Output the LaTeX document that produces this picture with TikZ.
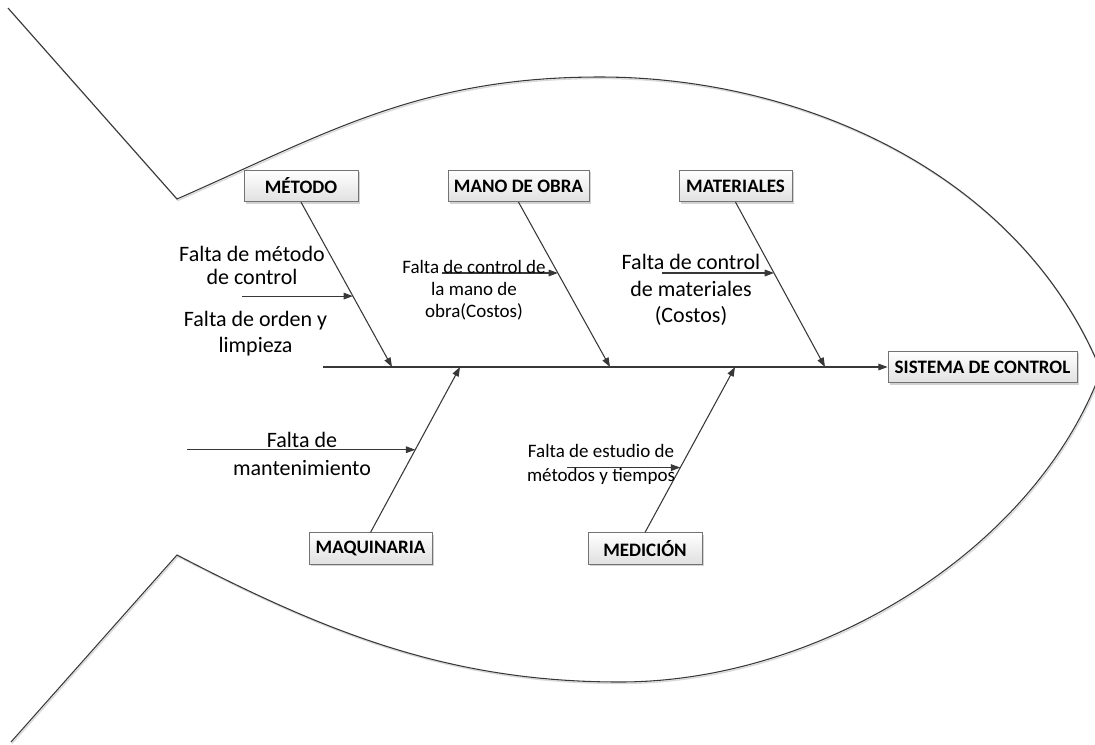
\documentclass[tikz,border=0pt]{standalone}
\usepackage{fontspec}
\setmainfont{Carlito}
\usetikzlibrary{arrows.meta,shadows,calc}
\begin{document}
\begin{tikzpicture}[x=0.75pt,y=-0.75pt,
  line/.style={draw=black!78, line width=0.8pt},
  arr/.style={line, -{Triangle[length=7pt,width=5pt]}},
  box/.style={draw=black!55, line width=0.6pt, top color=white, bottom color=black!12,
    drop shadow={shadow xshift=1.5pt, shadow yshift=-1.5pt, fill=black!25, opacity=0.7},
    font=\fontsize{14.25pt}{16pt}\selectfont\bfseries, inner sep=0pt, minimum height=23.5pt},
  lbl/.style={align=center, inner sep=0pt, text=black}
]
\useasboundingbox (0,0) rectangle (1095,744);
\clip (0,0) rectangle (1095,744);
% fish outline (shadow + line)
\draw[black!15, line width=1pt, shift={(1,1.5)}] (8,8) -- (177,199) .. controls (327,133) and (420,77) .. (600,77) .. controls (800,77) and (1020,172) .. (1101,371) .. controls (1035,550) and (820,682) .. (620,682) .. controls (450,682) and (327,633) .. (177,555) -- (11,742);
\draw[line] (8,8) -- (177,199) .. controls (327,133) and (420,77) .. (600,77) .. controls (800,77) and (1020,172) .. (1101,371) .. controls (1035,550) and (820,682) .. (620,682) .. controls (450,682) and (327,633) .. (177,555) -- (11,742);

% boxes
\node[box, minimum width=85.5pt] (metodo) at (301,186) {MÉTODO};
\node[box, minimum width=105.75pt] (mano) at (518.5,186) {MANO DE OBRA};
\node[box, minimum width=84.75pt] (materiales) at (735.5,186) {MATERIALES};
\node[box, minimum width=141.75pt] (sistema) at (982.5,367) {SISTEMA DE CONTROL};
\node[box, minimum width=92.25pt] (maquinaria) at (370.5,548.5) {MAQUINARIA};
\node[box, minimum width=85.5pt] (medicion) at (645,548.5) {MEDICIÓN};

% spine
\coordinate (sp) at (323,367);
\draw[arr] (sp) -- (sistema.west);

% bones
\coordinate (j1) at (392,367);
\coordinate (j2) at (610,367);
\coordinate (j3) at (825,367);
\coordinate (j4) at (460,367);
\coordinate (j5) at (735,367);
\draw[arr] (metodo.south) -- (j1);
\draw[arr] (mano.south) -- (j2);
\draw[arr] (materiales.south) -- (j3);
\draw[arr] (maquinaria.north) -- (j4);
\draw[arr] (medicion.north) -- (j5);

% sub-causes arrows
\coordinate (m1) at ($(metodo.south)!0.57!(j1)$);
\coordinate (a1) at ($(m1)+(-111,0)$);
\draw[arr] (a1) -- (m1);
\coordinate (m2) at ($(mano.south)!0.43!(j2)$);
\coordinate (a2) at ($(m2)+(-116,0)$);
\draw[arr] (a2) -- (m2);
\coordinate (m3) at ($(materiales.south)!0.43!(j3)$);
\coordinate (a3) at ($(m3)+(-112,0)$);
\draw[arr] (a3) -- (m3);
\coordinate (m4) at ($(maquinaria.north)!0.5!(j4)$);
\coordinate (a4) at ($(m4)+(-228,0)$);
\draw[arr] (a4) -- (m4);
\coordinate (m5) at ($(medicion.north)!0.392!(j5)$);
\coordinate (a5) at ($(m5)+(-113,0)$);
\draw[arr] (a5) -- (m5);

% labels
\node[lbl, font=\fontsize{16.5pt}{17.25pt}\selectfont] (t1) at (252,265) {Falta de método\\de control};
\node[lbl, font=\fontsize{16.5pt}{19.5pt}\selectfont] (t2) at (255.5,334) {Falta de orden y\\limpieza};
\node[lbl, font=\fontsize{14.25pt}{16.5pt}\selectfont] (t3) at (474,290) {Falta de control de\\la mano de\\obra(Costos)};
\node[lbl, font=\fontsize{16.5pt}{20pt}\selectfont] (t4) at (691,290) {Falta de control\\de materiales\\(Costos)};
\node[lbl, font=\fontsize{16.5pt}{21pt}\selectfont] (t5) at (302,454) {Falta de\\mantenimiento};
\node[lbl, font=\fontsize{14.25pt}{18pt}\selectfont] (t6) at (601,464) {Falta de estudio de\\métodos y tiempos};
\end{tikzpicture}
\end{document}
